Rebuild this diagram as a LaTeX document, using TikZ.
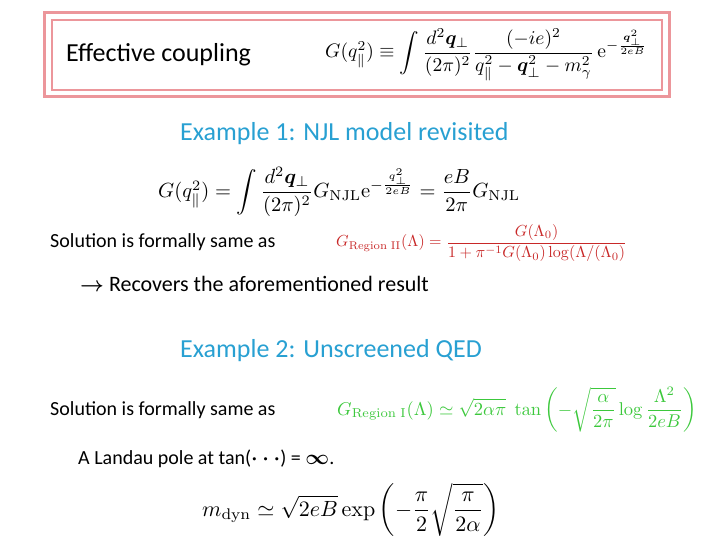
\documentclass[tikz,border=0pt]{standalone}
\usepackage{amsmath,amssymb,bm}
\usepackage[no-math]{fontspec}
\setmainfont{Carlito}
\definecolor{pinkb}{RGB}{236,150,155}
\definecolor{headb}{RGB}{40,160,210}
\definecolor{redf}{RGB}{200,40,40}
\definecolor{greenf}{RGB}{60,200,60}
\tikzset{txt/.style={anchor=west,inner sep=0pt,font=\fontsize{20}{24}\selectfont},
head/.style={anchor=west,inner sep=0pt,text=headb,font=\fontsize{26}{30}\selectfont},
eq/.style={anchor=west,inner sep=0pt}}
\begin{document}
\begin{tikzpicture}[x=1pt,y=-1pt]
\useasboundingbox (0,0) rectangle (720,540);
\draw[pinkb,line width=3pt] (44,13) rectangle (669,97);
\draw[pinkb,line width=2pt] (52,20) rectangle (662,90);
\node[anchor=west,inner sep=0pt,font=\fontsize{26}{30}\selectfont] (t1) at (66,55) {Effective coupling};
\node[eq] (e1) at (325,55) {\scalebox{1.95}{$G(q_\parallel^2)\equiv\displaystyle\int\frac{d^2\bm{q}_\perp}{(2\pi)^2}\frac{(-ie)^2}{q_\parallel^2-\bm{q}_\perp^2-m_\gamma^2}\,\mathrm{e}^{-\frac{\bm{q}_\perp^2}{2eB}}$}};
\node[head] (h1) at (180,134) {Example 1: NJL model revisited};
\node[eq] (e2) at (158,192) {\scalebox{2.05}{$G(q_\parallel^2)=\displaystyle\int\frac{d^2\bm{q}_\perp}{(2\pi)^2}G_{\mathrm{NJL}}\mathrm{e}^{-\frac{q_\perp^2}{2eB}}=\frac{eB}{2\pi}G_{\mathrm{NJL}}$}};
\node[txt] (s1) at (50,242) {Solution is formally same as};
\node[eq,text=redf] (e3) at (336,243) {\scalebox{1.6}{$G_{\mathrm{Region\ II}}(\Lambda)=\dfrac{G(\Lambda_0)}{1+\pi^{-1}G(\Lambda_0)\log(\Lambda/(\Lambda_0)}$}};
\node[anchor=west,inner sep=0pt,font=\fontsize{22}{26}\selectfont] (r1) at (80,284) {$\bm\rightarrow$ Recovers the aforementioned result};
\node[head] (h2) at (180,351) {Example 2: Unscreened QED};
\node[txt] (s2) at (50,410) {Solution is formally same as};
\node[eq,text=greenf] (e4) at (337,410) {\scalebox{1.85}{$G_{\mathrm{Region\ I}}(\Lambda)\simeq\sqrt{2\alpha\pi}\;\tan\left(-\sqrt{\dfrac{\alpha}{2\pi}}\log\dfrac{\Lambda^2}{2eB}\right)$}};
\node[txt] (s3) at (78,459) {A Landau pole at tan($\bm{\cdot\cdot\cdot}$) = $\bm\infty$.};
\node[eq] (e5) at (202,510) {\scalebox{2.2}{$m_{\mathrm{dyn}}\simeq\sqrt{2eB}\exp\left(-\dfrac{\pi}{2}\sqrt{\dfrac{\pi}{2\alpha}}\right)$}};
\end{tikzpicture}
\end{document}
